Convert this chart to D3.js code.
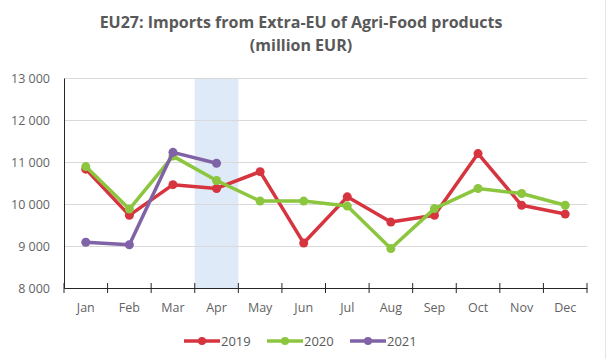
<!DOCTYPE html>
<html>
<head>
<meta charset="utf-8">
<script src="https://cdn.jsdelivr.net/npm/d3@7"></script>
<style>
  body { margin: 0; background: #fff; }
  text { font-family: "Open Sans", "Noto Sans", sans-serif; }
</style>
</head>
<body>
<main></main>
<script>
// data
const months = ['Jan', 'Feb', 'Mar', 'Apr', 'May', 'Jun', 'Jul', 'Aug', 'Sep', 'Oct', 'Nov', 'Dec'];
const values2019 = [10830, 9730, 10460, 10370, 10770, 9070, 10170, 9570, 9730, 11200, 9970, 9760];
const values2020 = [10890, 9880, 11140, 10560, 10070, 10070, 9950, 8940, 9890, 10370, 10250, 9970];
const values2021 = [9090, 9030, 11230, 10970];
const yTicks = [8000, 9000, 10000, 11000, 12000, 13000];
const highlightMonth = 'Apr';

const series = [
  { name: '2019', values: values2019, color: '#d6343f' },
  { name: '2020', values: values2020, color: '#8cc63f' },
  { name: '2021', values: values2021, color: '#8062a6' }
];

const width = 610;
const height = 359;
const plotLeft = 64;
const plotRight = 587;
const plotTop = 78;
const plotBottom = 288;

const svg = d3.select('main')
  .append('svg')
  .attr('width', width)
  .attr('height', height);

// scales
const xScale = d3.scaleBand()
  .domain(months)
  .range([plotLeft, plotRight]);

const yScale = d3.scaleLinear()
  .domain([8000, 13000])
  .range([plotBottom, plotTop]);

// chart border on the right
svg.append('line')
  .attr('x1', 605.5).attr('x2', 605.5)
  .attr('y1', 0).attr('y2', height)
  .attr('stroke', '#e4e4e4');

// title
svg.append('text')
  .attr('x', 301).attr('y', 28)
  .attr('text-anchor', 'middle')
  .attr('font-size', 16).attr('font-weight', 'bold')
  .attr('fill', '#595959')
  .text('EU27: Imports from Extra-EU of Agri-Food products');
svg.append('text')
  .attr('x', 301).attr('y', 51)
  .attr('text-anchor', 'middle')
  .attr('font-size', 16).attr('font-weight', 'bold')
  .attr('fill', '#595959')
  .text('(million EUR)');

// highlighted month
svg.append('rect')
  .attr('x', xScale(highlightMonth))
  .attr('y', plotTop)
  .attr('width', xScale.bandwidth())
  .attr('height', plotBottom - plotTop)
  .attr('fill', '#deeaf7');

// gridlines
svg.append('g')
  .selectAll('line')
  .data(yTicks.slice(1))
  .enter()
  .append('line')
  .attr('x1', plotLeft).attr('x2', plotRight)
  .attr('y1', d => Math.round(yScale(d)) + 0.5)
  .attr('y2', d => Math.round(yScale(d)) + 0.5)
  .attr('stroke', '#d9d9d9');

// y axis
const yAxis = svg.append('g')
  .attr('transform', `translate(${plotLeft},0)`)
  .call(d3.axisLeft(yScale).tickValues(yTicks).tickSize(0).tickPadding(14)
    .tickFormat(d => d3.format(',')(d).replace(',', ' ')));
yAxis.select('.domain').attr('stroke', '#262626');
yAxis.selectAll('text').attr('font-size', 12.5).attr('fill', '#636363')
  .attr('font-family', '"Open Sans", sans-serif');

// x axis with category ticks
const xAxis = svg.append('g')
  .attr('transform', `translate(0,${plotBottom})`)
  .call(d3.axisBottom(xScale).tickSize(0).tickPadding(15));
xAxis.select('.domain').attr('stroke', '#262626');
xAxis.selectAll('text').attr('font-size', 12.5).attr('fill', '#636363')
  .attr('font-family', '"Open Sans", sans-serif');
xAxis.selectAll('.sep')
  .data(d3.range(months.length + 1))
  .enter()
  .append('line')
  .attr('x1', i => plotLeft + i * xScale.step())
  .attr('x2', i => plotLeft + i * xScale.step())
  .attr('y1', -5).attr('y2', 5)
  .attr('stroke', '#262626');

// lines and markers
const line = d3.line()
  .x((d, i) => xScale(months[i]) + xScale.bandwidth() / 2)
  .y(d => yScale(d));

series.forEach(s => {
  const g = svg.append('g');
  g.append('path')
    .datum(s.values)
    .attr('d', line)
    .attr('fill', 'none')
    .attr('stroke', s.color)
    .attr('stroke-width', 3.5)
    .attr('stroke-linejoin', 'round');
  g.selectAll('circle')
    .data(s.values)
    .enter()
    .append('circle')
    .attr('cx', (d, i) => xScale(months[i]) + xScale.bandwidth() / 2)
    .attr('cy', d => yScale(d))
    .attr('r', 4.5)
    .attr('fill', s.color);
});

// legend
const legendX = [184, 267, 350];
const legend = svg.append('g');
series.forEach((s, i) => {
  const g = legend.append('g').attr('transform', `translate(${legendX[i]},341)`);
  g.append('line').attr('x1', 0).attr('x2', 36).attr('stroke', s.color).attr('stroke-width', 3.5);
  g.append('circle').attr('cx', 18).attr('r', 4).attr('fill', s.color);
  g.append('text').attr('x', 37).attr('y', 4.5)
    .attr('font-size', 13).attr('fill', '#595959')
    .text(s.name);
});
</script>
</body>
</html>
